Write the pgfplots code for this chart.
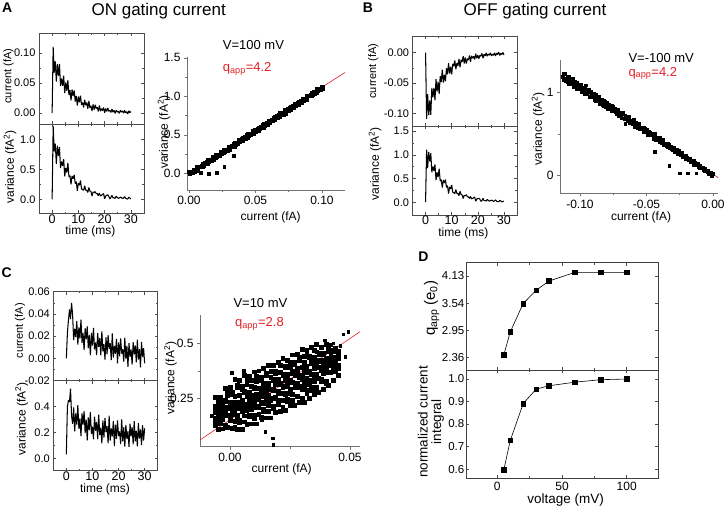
\documentclass[border=0pt]{standalone}
\usepackage{pgfplots}
\pgfplotsset{compat=1.18}
\usepackage{pgfplotstable}
\usepackage{fontspec}
\setmainfont{Liberation Sans}
\definecolor{qred}{RGB}{226,32,38}
\newcommand{\fs}[1]{\fontsize{#1bp}{#1bp}\selectfont}

\pgfplotstableread{
t iA vA iB vB iC vC
0 0 0 0 0 0 0.03
0.4 0.1101 1.223 -0.1092 1.111 0.0229 0.400
0.8 0.0673 0.800 -0.0682 0.722 0.0342 0.450
1.2 0.0860 0.928 -0.1031 1.063 0.0440 0.437
1.6 0.0525 0.593 -0.0789 0.865 0.0353 0.540
2.0 0.0816 0.893 -0.1024 1.035 0.0500 0.331
2.4 0.0618 0.728 -0.0582 0.633 0.0391 0.267
2.8 0.0814 0.870 -0.0734 0.755 0.0166 0.394
3.2 0.0449 0.524 -0.0582 0.662 0.0268 0.210
3.6 0.0577 0.631 -0.0783 0.796 0.0193 0.349
4.0 0.0453 0.558 -0.0435 0.467 0.0335 0.261
4.4 0.0621 0.670 -0.0643 0.631 0.0125 0.413
4.8 0.0333 0.383 -0.0477 0.531 0.0280 0.229
5.2 0.0509 0.525 -0.0683 0.711 0.0179 0.309
5.6 0.0371 0.447 -0.0389 0.449 0.0349 0.173
6.0 0.0548 0.608 -0.0483 0.477 0.0140 0.349
6.4 0.0302 0.379 -0.0281 0.310 0.0229 0.262
6.8 0.0380 0.395 -0.0493 0.467 0.0074 0.366
7.2 0.0211 0.251 -0.0364 0.409 0.0272 0.195
7.6 0.0393 0.389 -0.0470 0.478 0.0171 0.300
8.0 0.0285 0.345 -0.0255 0.313 0.0288 0.140
8.4 0.0378 0.409 -0.0358 0.350 0.0094 0.317
8.8 0.0194 0.263 -0.0173 0.182 0.0211 0.218
9.2 0.0286 0.295 -0.0346 0.323 0.0030 0.359
9.6 0.0125 0.141 -0.0233 0.280 0.0229 0.189
10.0 0.0277 0.270 -0.0358 0.366 0.0115 0.246
10.4 0.0179 0.236 -0.0184 0.213 0.0274 0.147
10.8 0.0291 0.315 -0.0226 0.201 0.0081 0.324
11.2 0.0139 0.175 -0.0129 0.181 0.0143 0.214
11.6 0.0178 0.163 -0.0273 0.266 0.0031 0.283
12.0 0.0093 0.151 -0.0171 0.185 0.0230 0.149
12.4 0.0223 0.229 -0.0219 0.184 0.0105 0.339
12.8 0.0131 0.153 -0.0104 0.140 0.0182 0.180
13.2 0.0177 0.151 -0.0243 0.229 0.0029 0.238
13.6 0.0074 0.115 -0.0116 0.164 0.0243 0.116
14.0 0.0201 0.199 -0.0153 0.155 0.0063 0.294
14.4 0.0087 0.138 -0.0058 0.077 0.0128 0.160
14.8 0.0121 0.129 -0.0177 0.146 -0.0011 0.314
15.2 0.0036 0.056 -0.0080 0.136 0.0189 0.204
15.6 0.0146 0.122 -0.0179 0.158 0.0037 0.250
16.0 0.0058 0.116 -0.0099 0.115 0.0210 0.116
16.4 0.0138 0.129 -0.0120 0.114 0.0085 0.331
16.8 0.0078 0.096 -0.0047 0.079 0.0137 0.137
17.2 0.0097 0.096 -0.0151 0.122 -0.0015 0.231
17.6 0.0029 0.061 -0.0050 0.073 0.0226 0.170
18.0 0.0128 0.105 -0.0092 0.079 0.0007 0.288
18.4 0.0033 0.058 -0.0059 0.095 0.0113 0.095
18.8 0.0074 0.067 -0.0113 0.110 0.0042 0.261
19.2 0.0043 0.082 -0.0018 0.023 0.0176 0.152
19.6 0.0095 0.098 -0.0092 0.067 -0.0043 0.294
20.0 0.0005 0.010 -0.0039 0.078 0.0145 0.173
20.4 0.0076 0.056 -0.0100 0.084 0.0020 0.208
20.8 0.0027 0.068 -0.0044 0.063 0.0180 0.110
21.2 0.0087 0.076 -0.0057 0.018 0.0043 0.301
21.6 0.0032 0.052 -0.0012 0.037 0.0082 0.132
22.0 0.0046 0.009 -0.0092 0.084 -0.0029 0.239
22.4 0.0013 0.033 -0.0025 0.032 0.0186 0.090
22.8 0.0068 0.067 -0.0055 0.034 -0.0005 0.260
23.2 0.0016 0.024 -0.0003 0.024 0.0115 0.151
23.6 0.0046 0.028 -0.0058 0.058 -0.0076 0.210
24.0 -0.0004 0.016 -0.0024 0.040 0.0138 0.089
24.4 0.0049 0.052 -0.0039 0.023 0.0015 0.268
24.8 0.0017 0.034 -0.0003 0.030 0.0081 0.171
25.2 0.0032 0.018 -0.0053 0.044 -0.0055 0.242
25.6 -0.0003 0.024 -0.0024 0.034 0.0146 0.109
26.0 0.0046 0.040 -0.0043 0.018 0.0036 0.289
26.4 0.0018 0.029 -0.0004 0.028 0.0116 0.132
26.8 0.0037 0.014 -0.0053 0.050 -0.0034 0.215
27.2 -0.0001 0.023 -0.0008 0.020 0.0168 0.092
27.6 0.0047 0.047 -0.0030 0.014 -0.0010 0.273
28.0 0.0004 0.017 0.0010 0.011 0.0084 0.153
28.4 0.0026 0.011 -0.0045 0.038 -0.0080 0.224
28.8 -0.0014 0.005 -0.0011 0.027 0.0149 0.103
29.2 0.0040 0.036 -0.0029 0.007 0.0013 0.258
29.6 0.0007 0.023 0.0004 0.014 0.0093 0.138
30.0 0.0026 0.005 -0.0037 0.024 -0.0044 0.233
}\traces

\pgfplotstableread{
i v1 v2 v3 v4 v5 v6 v7
-0.006 .140 .129 .185 .162 .215 .200 .255
-0.005 .110 .172 .155 .190 .197 .228 .237
-0.004 .138 .147 .183 .180 .213 .203 .255
-0.003 .112 .170 .155 .213 .190 .233 .235
-0.002 .130 .128 .190 .174 .242 .238 .295
-0.001 .117 .171 .174 .212 .207 .264 .279
0.000 .150 .158 .210 .204 .232 .228 .300
0.001 .114 .191 .179 .235 .224 .269 .277
0.002 .118 .145 .190 .200 .258 .260 .338
0.003 .109 .167 .174 .232 .221 .299 .309
0.004 .142 .149 .217 .204 .262 .264 .332
0.005 .109 .189 .199 .232 .244 .292 .306
0.006 .144 .171 .219 .226 .279 .284 .354
0.007 .131 .209 .196 .259 .259 .314 .334
0.008 .168 .175 .241 .218 .271 .280 .353
0.009 .135 .201 .213 .263 .255 .306 .333
0.010 .158 .175 .231 .248 .301 .295 .371
0.011 .135 .216 .210 .266 .270 .328 .350
0.012 .178 .208 .253 .245 .298 .295 .376
0.013 .164 .232 .229 .290 .267 .332 .347
0.014 .192 .199 .267 .259 .312 .319 .387
0.015 .162 .227 .249 .287 .294 .355 .364
0.016 .190 .217 .265 .262 .312 .317 .402
0.017 .162 .250 .242 .292 .292 .347 .372
0.018 .204 .213 .291 .288 .334 .336 .399
0.019 .188 .251 .256 .314 .318 .366 .373
0.020 .224 .243 .281 .278 .339 .338 .414
0.021 .193 .274 .273 .319 .316 .369 .401
0.022 .211 .241 .304 .301 .359 .353 .434
0.023 .195 .273 .267 .340 .330 .390 .397
0.024 .238 .245 .308 .305 .353 .360 .423
0.025 .220 .273 .290 .333 .327 .393 .415
0.026 .240 .267 .325 .325 .375 .365 .448
0.027 .217 .300 .305 .355 .355 .405 .415
0.028 .262 .259 .317 .321 .374 .386 .449
0.029 .234 .304 .301 .347 .354 .422 .436
0.030 .252 .289 .347 .336 .392 .391 .474
0.031 .231 .307 .316 .369 .371 .414 .441
0.032 .274 .286 .344 .336 .397 .391 .464
0.033 .250 .331 .313 .373 .368 .436 .440
0.034 .288 .300 .358 .360 .408 .420 .483
0.035 .270 .328 .340 .396 .385 .438 .470
0.036 .286 .303 .358 .358 .423 .415 .498
0.037 .279 .343 .343 .390 .391 .451 .455
0.038 .328 .339 .385 .379 .418 .425 .482
0.039 .293 .365 .369 .409 .392 .448 .454
0.040 .318 .329 .390 .381 .433 .420 .497
0.041 .310 .370 .367 .412 .420 .463 .481
0.042 .369 .368 .419 .398 .449 .439 .494
0.043 .332 .407 .390 .435 .412 .471 .462
0.044 .373 .372 .413 .405 .438 .438 .480
0.045 .355 .400 .387 .438 .430 .461 .465
}\cscat

\pgfplotsset{
  base/.style={scale only axis, anchor=south west, clip=true, scaled ticks=false,
    /pgf/number format/assume math mode=true,
    tick label style={font=\fs{12}},
    tick style={black!70, line width=0.5pt}},
  trace/.style={base, axis line style={black!70, line width=0.6pt},
    tick align=inside, tick pos=both, major tick length=3bp, minor tick length=1.8bp,
    xmin=-5, xmax=35, xtick={0,10,20,30}, minor x tick num=1, minor y tick num=1,
    yticklabel style={font=\fs{11}}, xticklabel style={font=\fs{12.5}, inner ysep=0.8bp}},
  scat/.style={base, axis x line=bottom, axis y line=left,
    axis line style={black!55, line width=0.6pt, -},
    every outer x axis line/.append style={-}, every outer y axis line/.append style={-},
    tick style={black!55}, tick align=outside, major tick length=3bp, minor tick length=2bp,
    minor x tick num=1, minor y tick num=1},
  dbox/.style={base, axis line style={black!75, line width=0.6pt},
    tick align=inside, tick pos=both, major tick length=3bp, minor tick length=2bp,
    xmin=-24.2, xmax=124.4, xtick={0,50,100}, minor x tick num=1,
    yticklabel style={font=\fs{11.5}, inner xsep=1.5bp}, xticklabel style={font=\fs{12}}},
  tr/.style={black, line width=1.05pt, line join=bevel},
  sq/.style={only marks, mark=square*, mark size=1.3bp, mark options={draw=none, fill=black}},
}

\begin{document}
\begin{tikzpicture}
\useasboundingbox (0,0) rectangle (726bp,508bp);

% ---------------- Panel A ----------------
\begin{axis}[trace, at={(39bp,384bp)}, width=105bp, height=91bp,
  ymin=-0.018, ymax=0.133, ytick={0,0.05,0.1}, yticklabels={0.00,0.05,0.10}, xticklabels={}]
\addplot[tr] table[x=t,y=iA]{\traces};
\end{axis}
\begin{axis}[trace, at={(39bp,294.5bp)}, width=105bp, height=89.5bp,
  ymin=-0.235, ymax=1.256, ytick={0,0.5,1}, yticklabels={0.0,0.5,1.0}, xticklabels={0,10,20,30}]
\addplot[tr] table[x=t,y=vA]{\traces};
\end{axis}
\begin{axis}[scat, at={(187bp,318bp)}, width=158bp, height=133bp,
  xmin=-0.0015, xmax=0.1173, ymin=-0.215, ymax=1.51,
  xtick={0,0.05,0.1}, xticklabels={0.00,0.05,0.10}, ytick={0,0.5,1,1.5}, yticklabels={0.0,0.5,1.0,1.5}]
\addplot[sq] coordinates {(0,0.019)(0.001,-0.012)(0.002,0.026)(0.003,0.002)(0.004,0.055)(0.005,0.045)(0.006,0.089)(0.007,0.052)(0.008,0.088)(0.009,0.084)(0.010,0.128)(0.011,0.094)(0.012,0.141)(0.013,0.132)(0.014,0.182)(0.015,0.148)(0.016,0.180)(0.017,0.158)(0.018,0.215)(0.019,0.205)(0.020,0.243)(0.021,0.212)(0.022,0.250)(0.023,0.223)(0.024,0.279)(0.025,0.266)(0.026,0.313)(0.027,0.282)(0.028,0.309)(0.029,0.296)(0.030,0.352)(0.031,0.336)(0.032,0.365)(0.033,0.344)(0.034,0.403)(0.035,0.375)(0.036,0.401)(0.037,0.382)(0.038,0.439)(0.039,0.417)(0.040,0.467)(0.041,0.451)(0.042,0.474)(0.043,0.453)(0.044,0.518)(0.045,0.481)(0.046,0.516)(0.047,0.512)(0.048,0.554)(0.049,0.517)(0.050,0.570)(0.051,0.554)(0.052,0.601)(0.053,0.583)(0.054,0.603)(0.055,0.590)(0.056,0.649)(0.057,0.618)(0.058,0.657)(0.059,0.626)(0.060,0.685)(0.061,0.669)(0.062,0.695)(0.063,0.677)(0.064,0.733)(0.065,0.720)(0.066,0.749)(0.067,0.727)(0.068,0.784)(0.069,0.756)(0.070,0.788)(0.071,0.763)(0.072,0.825)(0.073,0.807)(0.074,0.836)(0.075,0.817)(0.076,0.867)(0.077,0.848)(0.078,0.884)(0.079,0.856)(0.080,0.909)(0.081,0.887)(0.082,0.937)(0.083,0.907)(0.084,0.945)(0.085,0.920)(0.086,0.973)(0.087,0.963)(0.088,1.008)(0.089,0.971)(0.090,1.006)(0.091,1.002)(0.092,1.046)(0.093,1.013)(0.094,1.060)(0.095,1.050)(0.096,1.100)(0.097,1.066)(0.098,1.099)(0.099,1.077)(0.100,1.133)(0.101,1.123)
(0.0005,0.000)(0.0015,0.025)(0.0025,0.009)(0.0035,0.056)(0.0045,0.025)(0.0055,0.058)(0.0065,0.036)(0.0075,0.095)(0.0085,0.082)(0.0095,0.108)(0.0105,0.087)(0.0115,0.143)(0.0125,0.118)(0.0135,0.150)(0.0145,0.122)(0.0155,0.179)(0.0165,0.169)(0.0175,0.213)(0.0185,0.179)(0.0195,0.211)(0.0205,0.196)(0.0215,0.249)(0.0225,0.233)(0.0235,0.283)(0.0245,0.249)(0.0255,0.285)(0.0265,0.260)(0.0275,0.313)(0.0285,0.309)(0.0295,0.344)(0.0305,0.311)(0.0315,0.349)(0.0325,0.342)(0.0335,0.386)(0.0345,0.349)(0.0355,0.400)(0.0365,0.396)(0.0375,0.437)(0.0385,0.403)(0.0395,0.447)(0.0405,0.420)(0.0415,0.458)(0.0425,0.457)(0.0435,0.501)(0.0445,0.458)(0.0455,0.518)(0.0465,0.505)(0.0475,0.531)(0.0485,0.512)(0.0495,0.571)(0.0505,0.541)(0.0515,0.579)(0.0525,0.554)(0.0535,0.595)(0.0545,0.597)(0.0555,0.633)(0.0565,0.596)(0.0575,0.649)(0.0585,0.633)(0.0595,0.686)(0.0605,0.650)(0.0615,0.688)(0.0625,0.684)(0.0635,0.725)(0.0645,0.691)(0.0655,0.727)(0.0665,0.720)(0.0675,0.764)(0.0685,0.730)(0.0695,0.780)(0.0705,0.771)(0.0715,0.818)(0.0725,0.778)(0.0735,0.819)(0.0745,0.812)(0.0755,0.854)(0.0765,0.826)(0.0775,0.867)(0.0785,0.854)(0.0795,0.904)(0.0805,0.874)(0.0815,0.918)(0.0825,0.890)(0.0835,0.943)(0.0845,0.927)(0.0855,0.975)(0.0865,0.944)(0.0875,0.976)(0.0885,0.954)(0.0895,1.013)(0.0905,1.001)(0.0915,1.027)(0.0925,1.005)(0.0935,1.061)(0.0945,1.036)(0.0955,1.069)(0.0965,1.041)(0.0975,1.097)(0.0985,1.087)(0.0995,1.131)(0.1005,1.098)
(0.0088,0.01)(0.015,0.0)(0.0208,0.012)(0.0266,0.085)(0.0334,0.227)};
\addplot[qred, line width=0.6pt] coordinates {(-0.0015,0) (0.1173,1.309)};
\end{axis}

% ---------------- Panel B ----------------
\begin{axis}[trace, at={(412.5bp,381.5bp)}, width=104.5bp, height=90bp,
  ymin=-0.1217, ymax=0.0267, ytick={-0.1,-0.05,0}, yticklabels={-0.10,-0.05,0.00}, xticklabels={}]
\addplot[tr] table[x=t,y=iB]{\traces};
\end{axis}
\begin{axis}[trace, at={(412.5bp,293bp)}, width=104.5bp, height=88.5bp,
  ymin=-0.27, ymax=1.60, ytick={0,0.5,1,1.5}, yticklabels={0.0,0.5,1.0,1.5}, xticklabels={0,10,20,30}]
\addplot[tr] table[x=t,y=vB]{\traces};
\end{axis}
\begin{axis}[scat, at={(560bp,314.7bp)}, width=158.3bp, height=133.3bp,
  xmin=-0.115, xmax=0.004, ymin=-0.212, ymax=1.394,
  xtick={-0.1,-0.05,0}, xticklabels={-0.10,-0.05,0.00}, ytick={0,1}, yticklabels={0,1}]
\addplot[sq] coordinates {(0,0.021)(-0.001,0.003)(-0.002,0.032)(-0.003,0.018)(-0.004,0.058)(-0.005,0.054)(-0.006,0.088)(-0.007,0.064)(-0.008,0.092)(-0.009,0.091)(-0.010,0.127)(-0.011,0.103)(-0.012,0.142)(-0.013,0.136)(-0.014,0.178)(-0.015,0.152)(-0.016,0.180)(-0.017,0.163)(-0.018,0.211)(-0.019,0.204)(-0.020,0.238)(-0.021,0.212)(-0.022,0.246)(-0.023,0.222)(-0.024,0.273)(-0.025,0.262)(-0.026,0.306)(-0.027,0.277)(-0.028,0.302)(-0.029,0.289)(-0.030,0.343)(-0.031,0.328)(-0.032,0.356)(-0.033,0.334)(-0.034,0.393)(-0.035,0.364)(-0.036,0.390)(-0.037,0.369)(-0.038,0.427)(-0.039,0.403)(-0.040,0.455)(-0.041,0.436)(-0.042,0.460)(-0.043,0.435)(-0.044,0.505)(-0.045,0.462)(-0.046,0.499)(-0.047,0.493)(-0.048,0.538)(-0.049,0.493)(-0.050,0.553)(-0.051,0.532)(-0.052,0.585)(-0.053,0.560)(-0.054,0.581)(-0.055,0.562)(-0.056,0.632)(-0.057,0.591)(-0.058,0.635)(-0.059,0.593)(-0.060,0.664)(-0.061,0.640)(-0.062,0.670)(-0.063,0.642)(-0.064,0.711)(-0.065,0.690)(-0.066,0.725)(-0.067,0.691)(-0.068,0.762)(-0.069,0.720)(-0.070,0.759)(-0.071,0.720)(-0.072,0.801)(-0.073,0.770)(-0.074,0.806)(-0.075,0.775)(-0.076,0.841)(-0.077,0.808)(-0.078,0.854)(-0.079,0.807)(-0.080,0.879)(-0.081,0.841)(-0.082,0.910)(-0.083,0.858)(-0.084,0.909)(-0.085,0.865)(-0.086,0.940)(-0.087,0.918)(-0.088,0.980)(-0.089,0.916)(-0.090,0.964)(-0.091,0.951)(-0.092,1.014)(-0.093,0.952)(-0.094,1.021)(-0.095,0.997)(-0.096,1.071)(-0.097,1.009)(-0.098,1.054)(-0.099,1.010)(-0.100,1.095)(-0.101,1.071)(-0.102,1.127)(-0.103,1.066)(-0.104,1.123)(-0.105,1.067)(-0.106,1.155)(-0.107,1.124)(-0.108,1.197)(-0.109,1.134)(-0.110,1.171)(-0.111,1.139)(-0.112,1.230)(-0.113,1.192)
(-0.0005,0.000)(-0.0015,0.034)(-0.0025,0.026)(-0.0035,0.061)(-0.0045,0.042)(-0.0055,0.067)(-0.0065,0.055)(-0.0075,0.100)(-0.0085,0.093)(-0.0095,0.115)(-0.0105,0.100)(-0.0115,0.146)(-0.0125,0.128)(-0.0135,0.155)(-0.0145,0.134)(-0.0155,0.181)(-0.0165,0.175)(-0.0175,0.213)(-0.0185,0.186)(-0.0195,0.214)(-0.0205,0.201)(-0.0215,0.249)(-0.0225,0.236)(-0.0235,0.281)(-0.0245,0.251)(-0.0255,0.283)(-0.0265,0.261)(-0.0275,0.311)(-0.0285,0.307)(-0.0295,0.341)(-0.0305,0.308)(-0.0315,0.345)(-0.0325,0.338)(-0.0335,0.381)(-0.0345,0.343)(-0.0355,0.393)(-0.0365,0.389)(-0.0375,0.431)(-0.0385,0.394)(-0.0395,0.439)(-0.0405,0.408)(-0.0415,0.449)(-0.0425,0.446)(-0.0435,0.492)(-0.0445,0.443)(-0.0455,0.507)(-0.0465,0.492)(-0.0475,0.519)(-0.0485,0.495)(-0.0495,0.561)(-0.0505,0.522)(-0.0515,0.565)(-0.0525,0.533)(-0.0535,0.579)(-0.0545,0.579)(-0.0555,0.619)(-0.0565,0.571)(-0.0575,0.633)(-0.0585,0.610)(-0.0595,0.673)(-0.0605,0.623)(-0.0615,0.669)(-0.0625,0.660)(-0.0635,0.709)(-0.0645,0.661)(-0.0655,0.703)(-0.0665,0.690)(-0.0675,0.745)(-0.0685,0.695)(-0.0695,0.758)(-0.0705,0.740)(-0.0715,0.801)(-0.0725,0.741)(-0.0735,0.793)(-0.0745,0.778)(-0.0755,0.830)(-0.0765,0.786)(-0.0775,0.840)(-0.0785,0.815)(-0.0795,0.883)(-0.0805,0.832)(-0.0815,0.892)(-0.0825,0.844)(-0.0835,0.917)(-0.0845,0.887)(-0.0855,0.952)(-0.0865,0.899)(-0.0875,0.942)(-0.0885,0.901)(-0.0895,0.986)(-0.0905,0.959)(-0.0915,0.994)(-0.0925,0.952)(-0.0935,1.035)(-0.0945,0.987)(-0.0955,1.032)(-0.0965,0.980)(-0.0975,1.063)(-0.0985,1.039)(-0.0995,1.104)(-0.1005,1.040)(-0.1015,1.086)(-0.1025,1.051)(-0.1035,1.133)(-0.1045,1.097)(-0.1055,1.174)(-0.1065,1.108)(-0.1075,1.160)(-0.1085,1.108)(-0.1095,1.192)(-0.1105,1.176)(-0.1115,1.230)(-0.1125,1.160)
(-0.0436,0.289)(-0.0328,0.117)(-0.0248,0.03)(-0.019,0.03)(-0.0127,0.03)(-0.0957,1.09)(-0.066,0.63)};
\addplot[qred, line width=0.6pt] coordinates {(-0.115,1.213) (0.004,-0.024)};
\end{axis}

% ---------------- Panel C ----------------
\begin{axis}[trace, at={(53.3bp,127.3bp)}, width=104.4bp, height=89bp,
  ymin=-0.02, ymax=0.06, ytick={-0.02,0,0.02,0.04,0.06}, yticklabels={-0.02,0.00,0.02,0.04,0.06}, xticklabels={}]
\addplot[tr] table[x=t,y=iC]{\traces};
\end{axis}
\begin{axis}[trace, at={(53.3bp,37.3bp)}, width=104.4bp, height=90bp,
  ymin=-0.096, ymax=0.602, ytick={0,0.2,0.4}, yticklabels={0.0,0.2,0.4}, xticklabels={0,10,20,30}]
\addplot[tr] table[x=t,y=vC]{\traces};
\end{axis}
\begin{axis}[scat, at={(200bp,61.3bp)}, width=160bp, height=131.7bp,
  xmin=-0.0125, xmax=0.0542, ymin=0.03, ymax=0.629,
  xtick={0,0.05}, xticklabels={0.00,0.05}, ytick={0.25,0.5}, yticklabels={0.25,0.5}]
\addplot[sq, mark size=1.9bp] table[x=i,y=v1]{\cscat};
\addplot[sq, mark size=1.9bp] table[x=i,y=v2]{\cscat};
\addplot[sq, mark size=1.9bp] table[x=i,y=v3]{\cscat};
\addplot[sq, mark size=1.9bp] table[x=i,y=v4]{\cscat};
\addplot[sq, mark size=1.9bp] table[x=i,y=v5]{\cscat};
\addplot[sq, mark size=1.9bp] table[x=i,y=v6]{\cscat};
\addplot[sq, mark size=1.9bp] table[x=i,y=v7]{\cscat};
\addplot[sq, mark size=1.3bp] coordinates {(0.0007,0.366)(0.0056,0.375)(-0.0063,0.26)(-0.0075,0.17)(0.0257,0.447)(0.032,0.47)(0.0361,0.462)(0.0396,0.515)(0.043,0.50)(0.0424,0.421)(0.0451,0.455)(0.0472,0.541)(0.0493,0.553)(0.0146,0.098)(0.0178,0.068)(0.018,0.038)(0.0133,0.15)(0.048,0.44)(0.046,0.49)};
\addplot[qred, line width=0.6pt] coordinates {(-0.0125,0.0605) (0.0542,0.553)};
\end{axis}

% ---------------- Panel D ----------------
\begin{axis}[dbox, at={(466bp,138bp)}, width=192.3bp, height=107.3bp,
  ymin=2.08, ymax=4.42, ytick={2.36,2.95,3.54,4.13}, yticklabels={2.36,2.95,3.54,4.13}, xticklabels={}]
\addplot[black, line width=0.6pt, mark=square*, mark size=2.3bp, mark options={fill=black}]
  coordinates {(5,2.41)(10,2.91)(20,3.53)(30,3.82)(40,4.02)(60,4.21)(80,4.21)(100,4.21)};
\end{axis}
\begin{axis}[dbox, at={(466bp,29.7bp)}, width=192.3bp, height=108.3bp,
  ymin=0.559, ymax=1.04, ytick={0.6,0.7,0.8,0.9,1.0}, yticklabels={0.6,0.7,0.8,0.9,1.0}, xticklabels={0,50,100}]
\addplot[black, line width=0.6pt, mark=square*, mark size=2.3bp, mark options={fill=black}]
  coordinates {(5,0.596)(10,0.727)(20,0.891)(30,0.955)(40,0.970)(60,0.986)(80,0.997)(100,1.0)};
\end{axis}

% ---------------- Texts ----------------
\node[font=\fs{14}\bfseries] at (7.2bp,500.5bp) {A};
\node[font=\fs{14}\bfseries] at (368bp,500.5bp) {B};
\node[font=\fs{14}\bfseries] at (6.7bp,235bp) {C};
\node[font=\fs{14}\bfseries] at (423.3bp,251.3bp) {D};
\node[font=\fs{17}] at (158.7bp,497bp) {ON gating current};
\node[font=\fs{17}] at (535bp,497bp) {OFF gating current};

\node[rotate=90, font=\fs{11}] at (8.5bp,432bp) {current (fA)};
\node[rotate=90, font=\fs{12}] at (10bp,341bp) {variance (fA\textsuperscript{2})};
\node[font=\fs{12}, inner sep=0pt] at (90.3bp,276.5bp) {time (ms)};
\node[rotate=90, font=\fs{12}] at (164bp,375.7bp) {variance (fA\textsuperscript{2})};
\node[font=\fs{12}] at (270.7bp,291bp) {current (fA)};
\node[anchor=west, font=\fs{13}, inner sep=0pt] at (222.7bp,463bp) {V=100 mV};
\node[anchor=west, font=\fs{13}, inner sep=0pt, text=qred] at (222.7bp,439bp) {q\textsubscript{app}=4.2};

\node[rotate=90, font=\fs{11}] at (373.3bp,437bp) {current (fA)};
\node[rotate=90, font=\fs{12}] at (375bp,344bp) {variance (fA\textsuperscript{2})};
\node[font=\fs{12}, inner sep=0pt] at (463.3bp,274.5bp) {time (ms)};
\node[rotate=90, font=\fs{12}] at (538bp,379bp) {variance (fA\textsuperscript{2})};
\node[font=\fs{12}] at (641bp,291bp) {current (fA)};
\node[anchor=west, font=\fs{13}, inner sep=0pt] at (628.3bp,449.5bp) {V=-100 mV};
\node[anchor=west, font=\fs{13}, inner sep=0pt, text=qred] at (628.3bp,434.5bp) {q\textsubscript{app}=4.2};

\node[rotate=90, font=\fs{11}] at (20bp,177.2bp) {current (fA)};
\node[rotate=90, font=\fs{12}] at (21.7bp,89bp) {variance (fA\textsuperscript{2})};
\node[font=\fs{12}, inner sep=0pt] at (105bp,18.5bp) {time (ms)};
\node[rotate=90, font=\fs{12}] at (170.5bp,129.7bp) {variance (fA\textsuperscript{2})};
\node[font=\fs{12}] at (281.7bp,38.7bp) {current (fA)};
\node[anchor=west, font=\fs{13}, inner sep=0pt] at (233.3bp,204.7bp) {V=10 mV};
\node[anchor=west, font=\fs{13}, inner sep=0pt, text=qred] at (235bp,184bp) {q\textsubscript{app}=2.8};

\node[rotate=90, font=\fs{15}] at (431.7bp,199.7bp) {q\textsubscript{app} (e\textsubscript{0})};
\node[rotate=90, font=\fs{13.5}, align=center] at (431bp,86bp) {normalized current\\integral};
\node[font=\fs{13.5}] at (565.7bp,8bp) {voltage (mV)};
\end{tikzpicture}
\end{document}
